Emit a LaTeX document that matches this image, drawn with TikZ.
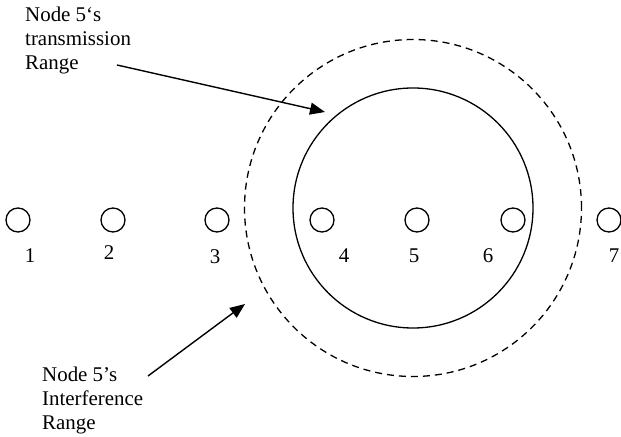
\documentclass[tikz,border=0pt]{standalone}
\usepackage{fontspec}
\setmainfont{Liberation Serif}
\usetikzlibrary{arrows.meta}

\begin{document}
\begin{tikzpicture}[x=1bp, y=-1bp,
	station/.style={draw, circle, line width=1.3bp, minimum size=24bp, inner sep=0pt},
	num/.style={anchor=base, inner sep=0pt, font=\fontsize{21}{24}\selectfont},
	caption/.style={anchor=north west, inner sep=0pt, align=left, font=\fontsize{21}{24}\selectfont},
	reach/.style={draw, circle, inner sep=0pt, line width=1.3bp},
	pointer/.style={line width=1.4bp, -{Triangle[length=15bp, width=12bp]}}]

	\useasboundingbox (0,0) rectangle (621,437);

	% ranges of node 5
	\node[reach, minimum size=240bp] (txrange) at (413,208) {};
	\node[reach, minimum size=337bp, dash pattern=on 7bp off 5bp] (ifrange) at (413,208) {};

	% stations and their numbers
	\foreach \i/\x/\lx/\ly in {1/18/30/263, 2/113/109/260, 3/217/215/264, 4/322/344/263, 5/417/414/263, 6/513/488/263, 7/609/614/263}
	{
		\node[station] (n\i) at (\x,220) {};
		\node[num] (l\i) at (\lx,\ly) {\i};
	}

	% captions
	\node[caption] (txlabel) at (25,7) {Node 5‘s\\transmission\\Range};
	\node[caption] (iflabel) at (42,367) {Node 5’s\\Interference\\Range};

	\coordinate (txtail) at (117,65);
	\coordinate (txtip) at (325,112);
	\coordinate (iftail) at (148,376);
	\coordinate (iftip) at (245,304);

	\draw[pointer] (txtail) -- (txtip);
	\draw[pointer] (iftail) -- (iftip);

\end{tikzpicture}
\end{document}
